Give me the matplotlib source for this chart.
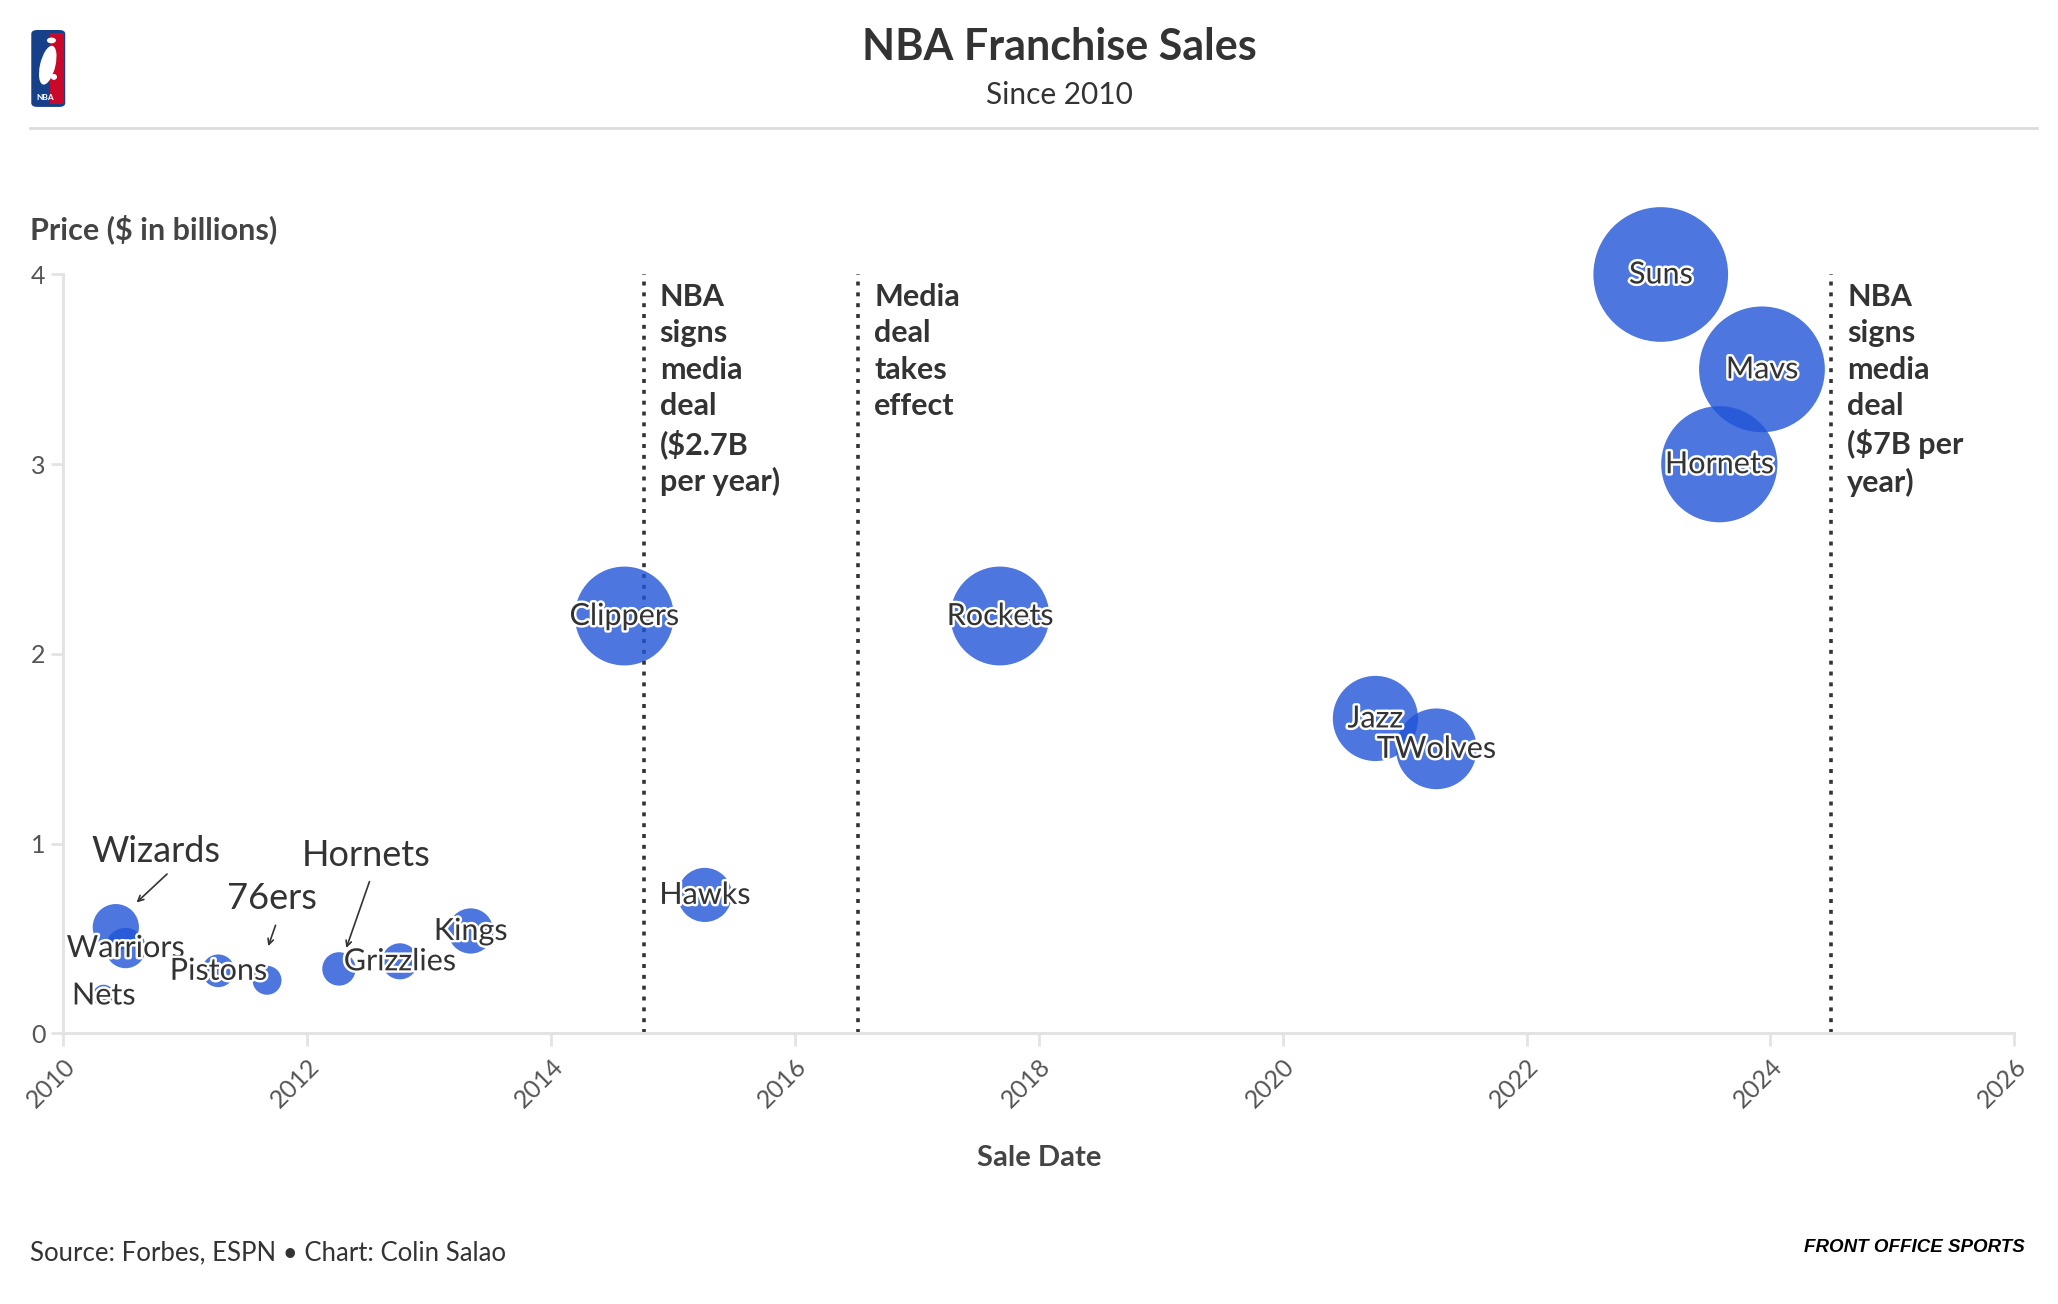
import matplotlib
matplotlib.use("Agg")
import matplotlib.pyplot as plt
import matplotlib.patheffects as pe
from matplotlib.patches import FancyBboxPatch, Rectangle, Ellipse, Circle

plt.rcParams['font.family'] = ['Lato', 'DejaVu Sans']

# sales since 2010: decimal sale date and price in $ billions
teams = ['Nets', 'Wizards', 'Warriors', 'Pistons', '76ers', 'Hornets',
         'Grizzlies', 'Kings', 'Clippers', 'Hawks', 'Rockets', 'Jazz',
         'TWolves', 'Suns', 'Hornets', 'Mavs']
sale_date = [2010.33, 2010.43, 2010.51, 2011.27, 2011.67, 2012.26,
             2012.76, 2013.34, 2014.60, 2015.26, 2017.68, 2020.76,
             2021.26, 2023.10, 2023.58, 2023.93]
price = [0.20, 0.56, 0.45, 0.33, 0.28, 0.34,
         0.38, 0.54, 2.20, 0.73, 2.20, 1.66,
         1.50, 4.00, 3.00, 3.50]

# the three small sales called out with arrows instead of a label on the bubble
callout_teams = ['Wizards', '76ers', 'Hornets']
callout_idx = [1, 4, 5]

event_dates = [2014.76, 2016.52, 2024.50]
event_text = ['NBA\nsigns\nmedia\ndeal\n($2.7B\nper year)',
              'Media\ndeal\ntakes\neffect',
              'NBA\nsigns\nmedia\ndeal\n($7B per\nyear)']

x_ticks = [2010, 2012, 2014, 2016, 2018, 2020, 2022, 2024, 2026]
y_ticks = [0, 1, 2, 3, 4]

dark = '#333333'
blue = '#2055d8'

fig = plt.figure(figsize=(20.58, 13.04), dpi=100)
ax = fig.add_axes([0.0308, 0.2075, 0.948, 0.582])

sizes = [2412 * (p - 0.1) for p in price]
ax.scatter(sale_date, price, s=sizes, color=blue, alpha=0.8,
           linewidths=0, zorder=3, clip_on=False)

halo = [pe.withStroke(linewidth=3.5, foreground='white')]
for i, name in enumerate(teams):
    if i in callout_idx:
        continue
    ax.text(sale_date[i], price[i], name, ha='center', va='center',
            fontsize=22, color=dark, zorder=5, path_effects=halo)

# callouts: text offset above the bubble, arrow pointing down to it
offsets = [(0.33, 0.40, 0.42, 0.28, 0.17, 0.13),
           (0.04, 0.43, 0.07, 0.29, 0.01, 0.18),
           (0.22, 0.60, 0.25, 0.46, 0.06, 0.11)]
for name, i, o in zip(callout_teams, callout_idx, offsets):
    x0, y0 = sale_date[i], price[i]
    ax.text(x0 + o[0], y0 + o[1], name, ha='center', va='center',
            fontsize=26, color=dark, zorder=5)
    ax.annotate('', xy=(x0 + o[4], y0 + o[5]), xytext=(x0 + o[2], y0 + o[3]),
                arrowprops=dict(arrowstyle='->', color=dark, lw=1.2,
                                shrinkA=0, shrinkB=0), zorder=5)

for d, t in zip(event_dates, event_text):
    ax.vlines(d, 0, 4, colors=dark, linestyles=(0, (1.1, 1.9)), lw=2.6, zorder=2)
    ax.text(d + 0.13, 3.955, t, ha='left', va='top', fontsize=22,
            fontweight='bold', color=dark, linespacing=1.36, zorder=5)

ax.set_xlim(2010, 2026)
ax.set_ylim(0, 4)
ax.set_xticks(x_ticks)
ax.set_yticks(y_ticks)
ax.set_xticklabels([str(t) for t in x_ticks], rotation=45, ha='right',
                   rotation_mode='anchor')
ax.tick_params(axis='both', colors='#e3e3e3', labelcolor='#555555',
               labelsize=18, length=9, width=2)
ax.tick_params(axis='x', pad=6)
ax.tick_params(axis='y', pad=4)
for s in ['top', 'right']:
    ax.spines[s].set_visible(False)
for s in ['left', 'bottom']:
    ax.spines[s].set_color('#e3e3e3')
    ax.spines[s].set_linewidth(2.2)

ax.set_xlabel('Sale Date', fontsize=21, fontweight='bold', color='#444444',
              labelpad=24)
fig.text(0.0147, 0.824, 'Price ($ in billions)', fontsize=22,
         fontweight='bold', color='#444444', ha='left', va='center')

# header
fig.text(0.515, 0.9636, 'NBA Franchise Sales', fontsize=31, fontweight='bold',
         color=dark, ha='center', va='center')
fig.text(0.515, 0.927, 'Since 2010', fontsize=21.5, color=dark,
         ha='center', va='center')
fig.add_artist(plt.Line2D([0.0147, 0.99], [0.902, 0.902],
                          color='#dcdcdc', lw=2, transform=fig.transFigure))

# simple league logo block
tf = fig.transFigure
fig.add_artist(FancyBboxPatch((0.0152, 0.918), 0.0165, 0.059,
                              boxstyle='round,pad=0,rounding_size=0.003',
                              transform=tf, facecolor='#17408b',
                              edgecolor='none'))
fig.add_artist(Rectangle((0.0245, 0.920), 0.0067, 0.055, transform=tf,
                         facecolor='#c9082a', edgecolor='none'))
fig.add_artist(Circle((0.0250, 0.969), 0.0022, transform=tf,
                      facecolor='white', edgecolor='none'))
fig.add_artist(Ellipse((0.0232, 0.950), 0.0075, 0.030, angle=-8,
                       transform=tf, facecolor='white', edgecolor='none'))
fig.add_artist(Ellipse((0.0262, 0.941), 0.0030, 0.0045, transform=tf,
                       facecolor='white', edgecolor='none'))
fig.text(0.0218, 0.925, 'NBA', fontsize=6, fontweight='bold', color='white',
         ha='center', va='center')

# footer
fig.text(0.0147, 0.039, 'Source: Forbes, ESPN \u2022 Chart: Colin Salao',
         fontsize=18.5, color=dark, ha='left', va='center')
fig.text(0.984, 0.043, 'FRONT OFFICE SPORTS', fontsize=13.5, fontweight='bold',
         fontstyle='italic', family=['Liberation Sans', 'DejaVu Sans'],
         color='black', ha='right', va='center')

fig.savefig('out.png', dpi=100, facecolor='white')
